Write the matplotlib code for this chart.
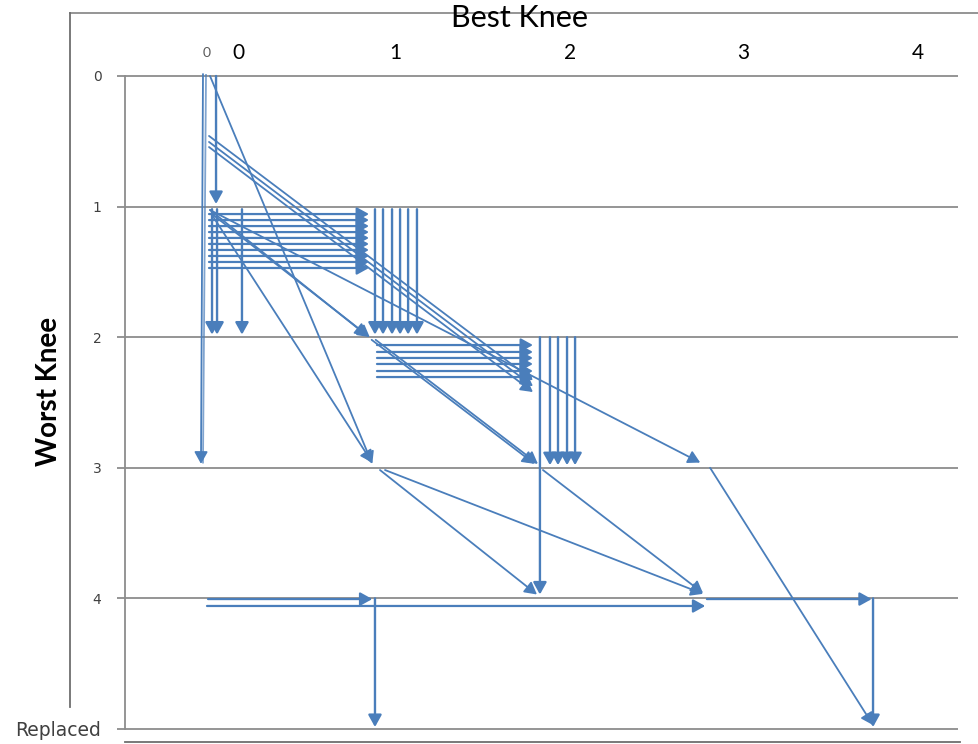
import matplotlib
matplotlib.use("Agg")
import matplotlib.pyplot as plt
from matplotlib.lines import Line2D

# ---------------- data ----------------
y_tick_labels = ["0", "1", "2", "3", "4", "Replaced"]
y_levels = [0, 1, 2, 3, 4, 5]
top_labels = ["0", "0", "1", "2", "3", "4"]

# vertical transitions: column x, from row, to row
vert_x = [0.066, 0.042, 0.072, 0.221,
          1.016, 1.064, 1.118, 1.166, 1.214, 1.267,
          2.002, 2.062, 2.110, 2.164, 2.212,
          1.016, 3.993]
vert_y0 = [0.0, 1.02, 1.02, 1.02,
           1.02, 1.02, 1.02, 1.02, 1.02, 1.02,
           2.0, 2.0, 2.0, 2.0, 2.0,
           4.0, 4.0]
vert_y1 = [0.98, 1.98, 1.98, 1.98,
           1.98, 1.98, 1.98, 1.98, 1.98, 1.98,
           3.97, 2.98, 2.98, 2.98, 2.98,
           4.985, 4.985]

# horizontal transitions: row y, from column, to column
horiz_y = [1.057, 1.103, 1.149, 1.195, 1.240, 1.286, 1.332, 1.378, 1.424, 1.470,
           2.060, 2.113, 2.159, 2.205, 2.259, 2.305,
           4.005, 4.005, 4.058]
horiz_x0 = [0.024, 0.024, 0.024, 0.024, 0.024, 0.024, 0.024, 0.024, 0.024, 0.024,
            1.028, 1.028, 1.028, 1.028, 1.028, 1.028,
            3.000, 0.018, 0.012]
horiz_x1 = [0.98, 0.98, 0.98, 0.98, 0.98, 0.98, 0.98, 0.98, 0.98, 0.98,
            1.96, 1.96, 1.96, 1.96, 1.96, 1.96,
            3.985, 1.000, 2.990]

# diagonal transitions
diag_x0 = [-0.012, 0.030, 0.024, 0.024, 0.024, 0.030, 0.042, 0.042, 0.030,
           0.996, 1.020, 1.046, 1.076, 2.020, 3.019]
diag_y0 = [-0.015, 0.000, 0.459, 0.505, 0.544, 1.026, 1.057, 1.064, 1.026,
           2.020, 2.020, 3.017, 3.017, 3.017, 3.000]
diag_x1 = [-0.024, 1.000, 1.960, 1.960, 1.960, 0.970, 0.985, 1.000, 2.960,
           1.970, 1.990, 1.984, 2.977, 2.977, 3.993]
diag_y1 = [2.970, 2.970, 2.330, 2.375, 2.420, 1.990, 2.000, 2.960, 2.960,
           2.970, 2.970, 3.970, 3.965, 3.960, 4.970]

# plain (no head) line
plain_x0 = [0.006]
plain_y0 = [-0.015]
plain_x1 = [-0.012]
plain_y1 = [2.960]

# ---------------- layout ----------------
W, H = 979, 744
fig = plt.figure(figsize=(W / 100, H / 100), dpi=100)
px_left, px_right, px_top, px_bot = 125, 958, 74, 731
ax = fig.add_axes([px_left / W, 1 - px_bot / H, (px_right - px_left) / W, (px_bot - px_top) / H])
x0px, xunit = 205.0, 167.3
y0px, yunit = 76.0, 130.6
ax.set_xlim((px_left - x0px) / xunit, (px_right - x0px) / xunit)
ax.set_ylim((px_bot - y0px) / yunit, (px_top - y0px) / yunit)

grid_c = "#8c8c8c"
arrow_c = "#4a7ebb"
for s in ["top", "right", "bottom"]:
    ax.spines[s].set_visible(False)
ax.spines["left"].set_color(grid_c)
ax.spines["left"].set_linewidth(1.3)
ax.spines["left"].set_bounds(0, 5)

ax.set_xticks([])
ax.set_yticks(y_levels)
ax.set_yticklabels(y_tick_labels)
ax.tick_params(axis="y", length=6, width=1.3, color=grid_c, pad=11, labelcolor="#404040", labelsize=10)
for lab in ax.get_yticklabels():
    if lab.get_text() == "Replaced":
        lab.set_fontsize(13.5)
ax.hlines(y_levels, ax.get_xlim()[0], ax.get_xlim()[1], colors=grid_c, lw=1.3, zorder=1, clip_on=False)

def arrow(xa, ya, xb, yb, lw):
    ax.annotate("", xy=(xb, yb), xytext=(xa, ya),
                arrowprops=dict(arrowstyle="-|>,head_length=0.45,head_width=0.25",
                                color=arrow_c, lw=lw, mutation_scale=16,
                                shrinkA=0, shrinkB=0), zorder=3)

for x, a, b in zip(vert_x, vert_y0, vert_y1):
    arrow(x, a, x, b, 1.7)
for y, a, b in zip(horiz_y, horiz_x0, horiz_x1):
    arrow(a, y, b, y, 1.6)
for a, b, c, d in zip(diag_x0, diag_y0, diag_x1, diag_y1):
    arrow(a, b, c, d, 1.3)
for a, b, c, d in zip(plain_x0, plain_y0, plain_x1, plain_y1):
    ax.plot([a, c], [b, d], color=arrow_c, lw=1.3, alpha=0.7, zorder=3)

# top labels
top_label_px = [207, 238, 395, 570, 743, 918]
for i, (lab, px) in enumerate(zip(top_labels, top_label_px)):
    fig.text(px / W, 1 - 53 / H, lab, ha="center", va="center",
             fontsize=10 if i == 0 else 15, family="Lato",
             color="#595959" if i == 0 else "black")

fig.text(520 / W, 1 - 18 / H, "Best Knee", ha="center", va="center", fontsize=22, family="Lato")
fig.text(49 / W, 1 - 391 / H, "Worst Knee", ha="center", va="center", fontsize=20,
         family="Lato", fontweight="bold", rotation=90)

# frame decorations
fig.add_artist(Line2D([70 / W, 1.0], [1 - 13 / H, 1 - 13 / H], color=grid_c, lw=1.3))
fig.add_artist(Line2D([70 / W, 70 / W], [1 - 13 / H, 1 - 707 / H], color="#6e6e6e", lw=1.3))
fig.add_artist(Line2D([125 / W, 960 / W], [1 - 742 / H, 1 - 742 / H], color="#6e6e6e", lw=1.3))

fig.savefig("out.png", dpi=100)
